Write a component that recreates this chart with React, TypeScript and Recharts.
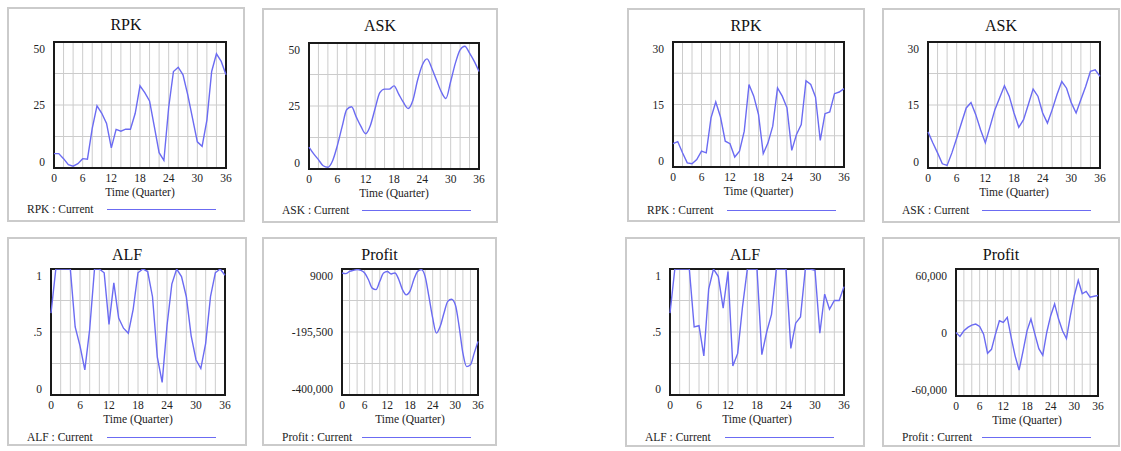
import React from 'react';
import { LineChart, Line, XAxis, YAxis, CartesianGrid, ReferenceArea } from 'recharts';

// ---------- data ----------
const quarters = [0, 1, 2, 3, 4, 5, 6, 7, 8, 9, 10, 11, 12, 13, 14, 15, 16, 17, 18, 19, 20, 21, 22, 23, 24, 25, 26, 27, 28, 29, 30, 31, 32, 33, 34, 35, 36];
const xGridTicks = [0, 2, 4, 6, 8, 10, 12, 14, 16, 18, 20, 22, 24, 26, 28, 30, 32, 34, 36];
const xLabelTicks = [0, 6, 12, 18, 24, 30, 36];

// left scenario
const rpkA = [5.7, 5.7, 3.7, 1.3, 0.7, 1.7, 3.7, 3.5, 15.7, 24.7, 21.7, 17.7, 8, 15.3, 14.6, 15.4, 15.4, 21.7, 32.6, 29.9, 26.6, 16.4, 6.1, 3, 24, 38.3, 40, 37, 29, 19.7, 10.4, 8.6, 19, 38.3, 45.3, 42.3, 37];
const askA = [8.7, 6, 3.7, 1.3, 0.7, 3.3, 9.3, 16.7, 23.6, 24.7, 20.7, 16.9, 14, 17.3, 24, 30.3, 31.7, 31.7, 33, 29.7, 26.4, 24, 27.3, 35.3, 41.3, 43.7, 40, 35.3, 30.7, 28, 34.7, 42, 47.3, 48.7, 46, 42.7, 38.7];
const alfA = [0.65, 1, 1, 1, 1, 0.54, 0.39, 0.2, 0.52, 1, 1, 0.97, 0.56, 0.89, 0.61, 0.53, 0.49, 0.68, 0.97, 1, 0.98, 0.78, 0.3, 0.1, 0.55, 0.88, 1, 0.94, 0.78, 0.47, 0.28, 0.21, 0.41, 0.78, 0.97, 1, 0.95];
const profitA = [-4000, -6000, 1000, 4600, 7000, 4600, -4000, -26000, -53000, -58000, -31000, -4000, 1000, -7000, -4000, -24000, -58000, -75000, -63000, -26000, 1000, 7000, -15000, -80000, -150000, -199000, -177000, -134000, -96000, -89000, -107000, -177000, -264000, -308000, -302000, -264000, -226000];

// right scenario
const rpkB = [5.6, 6.1, 3.4, 1.0, 0.8, 1.8, 3.8, 3.4, 11.8, 15.6, 12, 6.2, 5.6, 2.4, 3.8, 8.6, 19.8, 17, 12.6, 3.2, 5.8, 9.8, 19, 17, 14.2, 4, 7.8, 10.2, 20.7, 19.8, 16.8, 6.4, 12.8, 13.2, 17.6, 18, 18.8];
const askB = [8.6, 6, 3.6, 1, 0.6, 3.6, 7.1, 10.7, 14.3, 15.6, 12.7, 9.1, 6, 9.9, 13.9, 16.7, 19.6, 17.1, 13.1, 9.7, 11.5, 15.1, 18.8, 17.1, 13.1, 10.7, 13.9, 17.5, 20.6, 19, 15.5, 13.1, 16.3, 19.4, 23, 23.4, 21.8];
const alfB = [0.65, 1, 1, 1, 1, 0.54, 0.55, 0.31, 0.84, 1, 0.94, 0.69, 0.98, 0.23, 0.33, 0.7, 1, 1, 1, 0.32, 0.5, 0.64, 1, 1, 1, 0.37, 0.57, 0.62, 1, 1, 0.99, 0.49, 0.8, 0.68, 0.75, 0.75, 0.86];
const profitB = [0, -3800, 1600, 4800, 7000, 8000, 5700, -1600, -19700, -15900, -1600, 11100, 9500, 14300, -4800, -22300, -35600, -17500, 1600, 12700, -1600, -15300, -21600, 0, 15900, 27000, 12700, 1600, -5700, 15900, 35000, 49300, 36600, 38800, 33400, 34300, 35000];

// y ticks (grid) and their labels ('' = grid line only)
const ticks50 = [0, 12.5, 25, 37.5, 50];
const labels50 = ['0', '', '25', '', '50'];
const ticks30 = [0, 7.5, 15, 22.5, 30];
const labels30 = ['0', '', '15', '', '30'];
const ticksAlf = [0, 0.25, 0.5, 0.75, 1];
const labelsAlf = ['0', '', '.5', '', '1'];
const ticksProfitA = [-400000, -297750, -195500, -93250, 9000];
const labelsProfitA = ['-400,000', '', '-195,500', '', '9000'];
const ticksProfitB = [-60000, -30000, 0, 30000, 60000];
const labelsProfitB = ['-60,000', '', '0', '', '60,000'];

// ---------- styles / layout ----------
const FONT = '"Liberation Serif", "Times New Roman", serif';
const TEXT = '#222';
const LINE = '#6b6bf2';

type Box = { x: number; y: number; w: number; h: number };
type Plot = { l: number; t: number; r: number; b: number };
type Spec = {
  title: string;
  values: number[];
  yTicks: number[];
  yLabels: string[];
  box: Box;
  plot: Plot;
  curve: 'linear' | 'monotone';
};

const panels: Spec[] = [
  { title: 'RPK', values: rpkA, yTicks: ticks50, yLabels: labels50, box: { x: 7, y: 7, w: 238, h: 215 }, plot: { l: 54, t: 42, r: 226, b: 168 }, curve: 'linear' },
  { title: 'ASK', values: askA, yTicks: ticks50, yLabels: labels50, box: { x: 262, y: 8, w: 236, h: 215 }, plot: { l: 309, t: 43, r: 479, b: 169 }, curve: 'monotone' },
  { title: 'ALF', values: alfA, yTicks: ticksAlf, yLabels: labelsAlf, box: { x: 7, y: 237, w: 240, h: 209 }, plot: { l: 51, t: 269, r: 225, b: 395 }, curve: 'linear' },
  { title: 'Profit', values: profitA, yTicks: ticksProfitA, yLabels: labelsProfitA, box: { x: 262, y: 237, w: 235, h: 209 }, plot: { l: 342, t: 269, r: 478, b: 395 }, curve: 'monotone' },
  { title: 'RPK', values: rpkB, yTicks: ticks30, yLabels: labels30, box: { x: 627, y: 8, w: 238, h: 214 }, plot: { l: 673, t: 42, r: 844, b: 167 }, curve: 'linear' },
  { title: 'ASK', values: askB, yTicks: ticks30, yLabels: labels30, box: { x: 882, y: 8, w: 238, h: 215 }, plot: { l: 928, t: 42, r: 1100, b: 168 }, curve: 'linear' },
  { title: 'ALF', values: alfB, yTicks: ticksAlf, yLabels: labelsAlf, box: { x: 625, y: 237, w: 240, h: 210 }, plot: { l: 670, t: 269, r: 844, b: 395 }, curve: 'linear' },
  { title: 'Profit', values: profitB, yTicks: ticksProfitB, yLabels: labelsProfitB, box: { x: 882, y: 237, w: 238, h: 210 }, plot: { l: 956, t: 269, r: 1098, b: 396 }, curve: 'linear' },
];

const XTick = (props: any) => {
  const { x, y, payload } = props;
  if (!xLabelTicks.includes(payload.value)) return <g />;
  return (
    <text x={x} y={y} dy={14} textAnchor="middle" fontSize={11.5} fontFamily={FONT} fill={TEXT}>
      {payload.value}
    </text>
  );
};

const makeYTick = (spec: Spec) => (props: any) => {
  const { x, y, payload, index } = props;
  const idx = typeof index === 'number' ? index : spec.yTicks.indexOf(payload.value);
  const label = spec.yLabels[idx];
  if (!label) return <g />;
  const last = spec.yTicks.length - 1;
  const dy = idx === last ? 11 : idx === 0 ? -2 : 4;
  return (
    <text x={x - 9} y={y} dy={dy} textAnchor="end" fontSize={11.5} fontFamily={FONT} fill={TEXT}>
      {label}
    </text>
  );
};

const xTitle = (props: any) => {
  const vb = props.viewBox || {};
  return (
    <text x={vb.x + vb.width / 2} y={vb.y + 28} textAnchor="middle" fontSize={11.5} fontFamily={FONT} fill={TEXT}>
      Time (Quarter)
    </text>
  );
};

const Panel = ({ spec }: { spec: Spec }) => {
  const { box, plot } = spec;
  const data = quarters.map((q, i) => ({ t: q, v: spec.values[i] }));
  const yMin = spec.yTicks[0];
  const yMax = spec.yTicks[spec.yTicks.length - 1];
  const xAxisH = 34;
  const legendY = box.y < 100 ? 202 : 200;
  return (
    <div style={{ position: 'absolute', left: box.x, top: box.y, width: box.w, height: box.h }}>
      <div style={{ position: 'absolute', left: 0, top: 0, width: box.w, height: box.h, border: '2px solid #cbcbcb', boxSizing: 'border-box' }} />
      <div
        style={{
          position: 'absolute', left: 0, width: box.w, top: 8, height: 20, lineHeight: '20px',
          textAlign: 'center', fontFamily: FONT, fontSize: 16, color: '#111',
        }}
      >
        {spec.title}
      </div>
      <div style={{ position: 'absolute', left: 0, top: 0 }}>
        <LineChart
          width={box.w}
          height={box.h}
          data={data}
          margin={{ top: plot.t - box.y, right: box.x + box.w - plot.r, bottom: box.y + box.h - plot.b - xAxisH, left: 0 }}
        >
          <CartesianGrid stroke="#cccccc" strokeWidth={1} />
          <XAxis
            dataKey="t"
            type="number"
            domain={[0, 36]}
            ticks={xGridTicks}
            interval={0}
            tickLine={false}
            axisLine={false}
            tickSize={0}
            tickMargin={0}
            height={xAxisH}
            tick={<XTick />}
            label={xTitle}
          />
          <YAxis
            type="number"
            domain={[yMin, yMax]}
            ticks={spec.yTicks}
            interval={0}
            allowDataOverflow
            width={plot.l - box.x}
            tickLine={false}
            axisLine={false}
            tickSize={0}
            tickMargin={0}
            tick={makeYTick(spec)}
          />
          <ReferenceArea x1={0} x2={36} y1={yMin} y2={yMax} fill="none" fillOpacity={0} stroke="#1a1a1a" strokeWidth={2} ifOverflow="visible" />
          <Line dataKey="v" type={spec.curve} stroke={LINE} strokeWidth={1.4} dot={false} activeDot={false} isAnimationActive={false} />
        </LineChart>
      </div>
      <div
        style={{
          position: 'absolute', left: 20, top: legendY - 8, height: 16, lineHeight: '16px',
          fontFamily: FONT, fontSize: 11.5, color: TEXT, whiteSpace: 'nowrap',
        }}
      >
        {spec.title} : Current
      </div>
      <div style={{ position: 'absolute', left: 100, top: legendY, width: 109, height: 1, background: LINE }} />
    </div>
  );
}

export default function App() {
  return (
    <div style={{ position: 'absolute', left: 0, top: 0, width: 1121, height: 451, background: '#fff' }}>
      {panels.map((p, i) => (
        <Panel key={i} spec={p} />
      ))}
    </div>
  );
}
